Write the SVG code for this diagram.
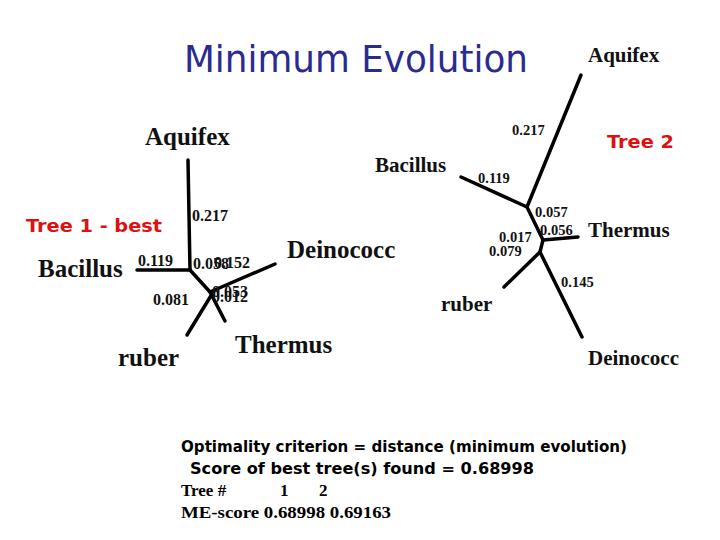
<svg xmlns="http://www.w3.org/2000/svg" width="720" height="540" viewBox="0 0 720 540">
<style>
.comic{font-family:"DejaVu Sans","Noto Sans",sans-serif}
.title{fill:#2b2b8f;font-size:38px}
.red{fill:#e01010;font-size:17px;font-weight:bold}
.taxon{font-family:"Liberation Serif","Times New Roman",serif;font-weight:bold;font-size:25px;fill:#111}
.taxon2{font-family:"Liberation Serif","Times New Roman",serif;font-weight:bold;font-size:21px;fill:#111}
.num{font-family:"Liberation Serif","Times New Roman",serif;font-weight:bold;font-size:16px;fill:#111}
.num2{font-family:"Liberation Serif","Times New Roman",serif;font-weight:bold;font-size:14.5px;fill:#111}
.br{stroke:#000;stroke-width:3.5;stroke-linecap:round;fill:none}
.out{font-weight:bold;font-size:16px;fill:#000}
.ser{font-family:"Liberation Serif","Times New Roman",serif;font-weight:bold;font-size:17px;fill:#000}
</style>
<rect width="720" height="540" fill="#fff"/>
<text class="comic title" x="184" y="72" textLength="344" lengthAdjust="spacingAndGlyphs">Minimum Evolution</text>

<g id="connectors">
<!-- Tree 1 -->
<line class="br" x1="188" y1="160" x2="190" y2="270"/>
<line class="br" x1="137" y1="270" x2="190" y2="270"/>
<line class="br" x1="190" y1="270" x2="210" y2="292"/>
<line class="br" x1="210" y1="292" x2="275" y2="264"/>
<line class="br" x1="210" y1="292" x2="225" y2="321"/>
<line class="br" x1="212" y1="294" x2="187" y2="335"/>
<!-- Tree 2 -->
<line class="br" x1="581" y1="75" x2="527" y2="207"/>
<line class="br" x1="461" y1="177" x2="527" y2="207"/>
<line class="br" x1="527" y1="207" x2="543" y2="240"/>
<line class="br" x1="543" y1="240" x2="578" y2="237"/>
<line class="br" x1="543" y1="240" x2="540" y2="252"/>
<line class="br" x1="540" y1="252" x2="504" y2="287"/>
<line class="br" x1="540" y1="252" x2="582" y2="337"/>
</g>

<g id="tree1">
<text class="comic red" x="26" y="232" textLength="136" lengthAdjust="spacingAndGlyphs">Tree 1 - best</text>
<g id="t1-aquifex"><text class="taxon" x="145" y="145">Aquifex</text></g>
<g id="t1-bacillus"><text class="taxon" x="38" y="277">Bacillus</text></g>
<g id="t1-deinococc"><text class="taxon" x="287" y="258">Deinococc</text></g>
<g id="t1-thermus"><text class="taxon" x="235" y="353">Thermus</text></g>
<g id="t1-ruber"><text class="taxon" x="118" y="366">ruber</text></g>
<text class="num" x="192" y="221">0.217</text>
<text class="num" x="138" y="266">0.119</text>
<text class="num" x="193" y="269">0.058</text>
<text class="num" x="214" y="268">0.152</text>
<text class="num" x="212" y="297">0.053</text>
<text class="num" x="212" y="302">0.012</text>
<text class="num" x="153" y="305">0.081</text>
</g>

<g id="tree2">
<text class="comic red" x="607" y="148" textLength="67" lengthAdjust="spacingAndGlyphs">Tree 2</text>
<g id="t2-aquifex"><text class="taxon2" x="588" y="62">Aquifex</text></g>
<g id="t2-bacillus"><text class="taxon2" x="375" y="172">Bacillus</text></g>
<g id="t2-thermus"><text class="taxon2" x="588" y="237">Thermus</text></g>
<g id="t2-ruber"><text class="taxon2" x="441" y="311">ruber</text></g>
<g id="t2-deinococc"><text class="taxon2" x="588" y="365">Deinococc</text></g>
<text class="num2" x="512" y="135">0.217</text>
<text class="num2" x="478" y="183">0.119</text>
<text class="num2" x="535" y="217">0.057</text>
<text class="num2" x="540" y="235">0.056</text>
<text class="num2" x="499" y="242">0.017</text>
<text class="num2" x="489" y="256">0.079</text>
<text class="num2" x="561" y="287">0.145</text>
</g>

<g id="output">
<text class="comic out" x="181" y="452" textLength="446" lengthAdjust="spacingAndGlyphs">Optimality criterion = distance (minimum evolution)</text>
<text class="comic out" x="190" y="474" textLength="344" lengthAdjust="spacingAndGlyphs">Score of best tree(s) found = 0.68998</text>
<text class="ser" x="181" y="496">Tree #</text>
<text class="ser" x="280" y="496">1</text>
<text class="ser" x="319" y="496">2</text>
<text class="ser" x="181" y="518" textLength="210" lengthAdjust="spacingAndGlyphs">ME-score  0.68998 0.69163</text>
</g>
</svg>
